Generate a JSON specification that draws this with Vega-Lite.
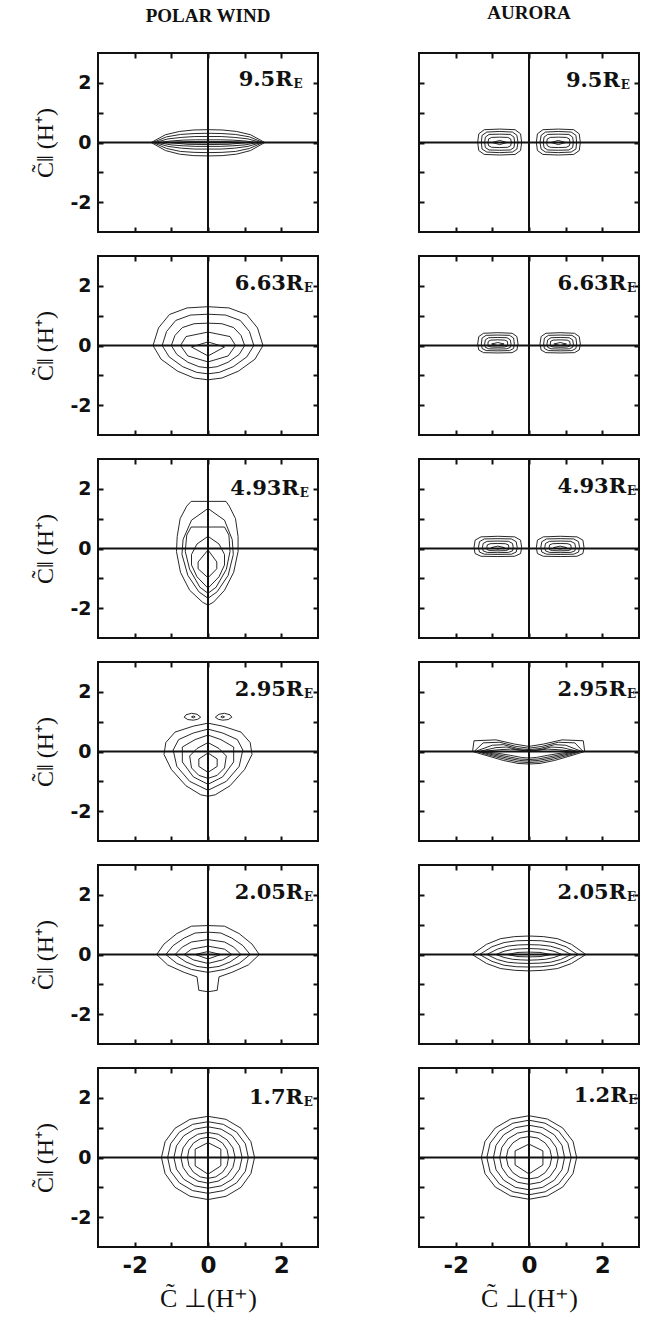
{
"$schema":"https://vega.github.io/schema/vega-lite/v6.json",
"background":"white",
"padding":{"left":32,"top":3,"right":5,"bottom":5},
"datasets":{
"labels":[
{"p":"L1","t":"9.5R","s":"E"},{"p":"L2","t":"6.63R","s":"E"},{"p":"L3","t":"4.93R","s":"E"},{"p":"L4","t":"2.95R","s":"E"},{"p":"L5","t":"2.05R","s":"E"},{"p":"L6","t":"1.7R","s":"E"},
{"p":"R1","t":"9.5R","s":"E"},{"p":"R2","t":"6.63R","s":"E"},{"p":"R3","t":"4.93R","s":"E"},{"p":"R4","t":"2.95R","s":"E"},{"p":"R5","t":"2.05R","s":"E"},{"p":"R6","t":"1.2R","s":"E"}],
"contours":[
{"p":"L1","c":1,"x":1.55,"y":0},{"p":"L1","c":1,"x":1.16,"y":0.26},{"p":"L1","c":1,"x":0.78,"y":0.37},{"p":"L1","c":1,"x":0.39,"y":0.42},{"p":"L1","c":1,"x":0,"y":0.43},{"p":"L1","c":1,"x":-0.39,"y":0.42},{"p":"L1","c":1,"x":-0.78,"y":0.37},{"p":"L1","c":1,"x":-1.16,"y":0.26},{"p":"L1","c":1,"x":-1.55,"y":0},{"p":"L1","c":1,"x":-1.16,"y":-0.27},{"p":"L1","c":1,"x":-0.78,"y":-0.39},{"p":"L1","c":1,"x":-0.39,"y":-0.44},{"p":"L1","c":1,"x":0,"y":-0.45},{"p":"L1","c":1,"x":0.39,"y":-0.44},{"p":"L1","c":1,"x":0.78,"y":-0.39},{"p":"L1","c":1,"x":1.16,"y":-0.27},
{"p":"L1","c":2,"x":1.5,"y":0},{"p":"L1","c":2,"x":1.13,"y":0.19},{"p":"L1","c":2,"x":0.75,"y":0.27},{"p":"L1","c":2,"x":0.38,"y":0.3},{"p":"L1","c":2,"x":0,"y":0.31},{"p":"L1","c":2,"x":-0.38,"y":0.3},{"p":"L1","c":2,"x":-0.75,"y":0.27},{"p":"L1","c":2,"x":-1.13,"y":0.19},{"p":"L1","c":2,"x":-1.5,"y":0},{"p":"L1","c":2,"x":-1.13,"y":-0.2},{"p":"L1","c":2,"x":-0.75,"y":-0.3},{"p":"L1","c":2,"x":-0.38,"y":-0.33},{"p":"L1","c":2,"x":0,"y":-0.34},{"p":"L1","c":2,"x":0.38,"y":-0.33},{"p":"L1","c":2,"x":0.75,"y":-0.3},{"p":"L1","c":2,"x":1.13,"y":-0.2},
{"p":"L1","c":3,"x":1.45,"y":0},{"p":"L1","c":3,"x":1.09,"y":0.12},{"p":"L1","c":3,"x":0.73,"y":0.17},{"p":"L1","c":3,"x":0.36,"y":0.2},{"p":"L1","c":3,"x":0,"y":0.2},{"p":"L1","c":3,"x":-0.36,"y":0.2},{"p":"L1","c":3,"x":-0.73,"y":0.17},{"p":"L1","c":3,"x":-1.09,"y":0.12},{"p":"L1","c":3,"x":-1.45,"y":0},{"p":"L1","c":3,"x":-1.09,"y":-0.13},{"p":"L1","c":3,"x":-0.73,"y":-0.19},{"p":"L1","c":3,"x":-0.36,"y":-0.22},{"p":"L1","c":3,"x":0,"y":-0.22},{"p":"L1","c":3,"x":0.36,"y":-0.22},{"p":"L1","c":3,"x":0.73,"y":-0.19},{"p":"L1","c":3,"x":1.09,"y":-0.13},
{"p":"L1","c":4,"x":1.35,"y":0},{"p":"L1","c":4,"x":1.01,"y":0.05},{"p":"L1","c":4,"x":0.68,"y":0.08},{"p":"L1","c":4,"x":0.34,"y":0.09},{"p":"L1","c":4,"x":0,"y":0.09},{"p":"L1","c":4,"x":-0.34,"y":0.09},{"p":"L1","c":4,"x":-0.68,"y":0.08},{"p":"L1","c":4,"x":-1.01,"y":0.05},{"p":"L1","c":4,"x":-1.35,"y":0},{"p":"L1","c":4,"x":-1.01,"y":-0.08},{"p":"L1","c":4,"x":-0.68,"y":-0.11},{"p":"L1","c":4,"x":-0.34,"y":-0.13},{"p":"L1","c":4,"x":0,"y":-0.13},{"p":"L1","c":4,"x":0.34,"y":-0.13},{"p":"L1","c":4,"x":0.68,"y":-0.11},{"p":"L1","c":4,"x":1.01,"y":-0.08},
{"p":"L1","c":5,"x":1.1,"y":0},{"p":"L1","c":5,"x":0.55,"y":0.03},{"p":"L1","c":5,"x":0,"y":0.03},{"p":"L1","c":5,"x":-0.55,"y":0.03},{"p":"L1","c":5,"x":-1.1,"y":0},{"p":"L1","c":5,"x":-0.55,"y":-0.06},{"p":"L1","c":5,"x":0,"y":-0.07},{"p":"L1","c":5,"x":0.55,"y":-0.06},

{"p":"L2","c":1,"x":1.5,"y":0},{"p":"L2","c":1,"x":1.35,"y":0.59},{"p":"L2","c":1,"x":1.05,"y":1.04},{"p":"L2","c":1,"x":0.57,"y":1.26},{"p":"L2","c":1,"x":0,"y":1.3},{"p":"L2","c":1,"x":-0.57,"y":1.26},{"p":"L2","c":1,"x":-1.05,"y":1.04},{"p":"L2","c":1,"x":-1.35,"y":0.59},{"p":"L2","c":1,"x":-1.5,"y":0},{"p":"L2","c":1,"x":-1.28,"y":-0.46},{"p":"L2","c":1,"x":-0.83,"y":-0.86},{"p":"L2","c":1,"x":-0.38,"y":-1.09},{"p":"L2","c":1,"x":0,"y":-1.15},{"p":"L2","c":1,"x":0.38,"y":-1.09},{"p":"L2","c":1,"x":0.83,"y":-0.86},{"p":"L2","c":1,"x":1.28,"y":-0.46},
{"p":"L2","c":2,"x":1.25,"y":0},{"p":"L2","c":2,"x":1.13,"y":0.47},{"p":"L2","c":2,"x":0.88,"y":0.84},{"p":"L2","c":2,"x":0.48,"y":1.02},{"p":"L2","c":2,"x":0,"y":1.05},{"p":"L2","c":2,"x":-0.48,"y":1.02},{"p":"L2","c":2,"x":-0.88,"y":0.84},{"p":"L2","c":2,"x":-1.13,"y":0.47},{"p":"L2","c":2,"x":-1.25,"y":0},{"p":"L2","c":2,"x":-1.06,"y":-0.38},{"p":"L2","c":2,"x":-0.69,"y":-0.71},{"p":"L2","c":2,"x":-0.31,"y":-0.9},{"p":"L2","c":2,"x":0,"y":-0.95},{"p":"L2","c":2,"x":0.31,"y":-0.9},{"p":"L2","c":2,"x":0.69,"y":-0.71},{"p":"L2","c":2,"x":1.06,"y":-0.38},
{"p":"L2","c":3,"x":1,"y":0},{"p":"L2","c":3,"x":0.9,"y":0.34},{"p":"L2","c":3,"x":0.7,"y":0.6},{"p":"L2","c":3,"x":0.38,"y":0.73},{"p":"L2","c":3,"x":0,"y":0.75},{"p":"L2","c":3,"x":-0.38,"y":0.73},{"p":"L2","c":3,"x":-0.7,"y":0.6},{"p":"L2","c":3,"x":-0.9,"y":0.34},{"p":"L2","c":3,"x":-1,"y":0},{"p":"L2","c":3,"x":-0.85,"y":-0.3},{"p":"L2","c":3,"x":-0.55,"y":-0.56},{"p":"L2","c":3,"x":-0.25,"y":-0.71},{"p":"L2","c":3,"x":0,"y":-0.75},{"p":"L2","c":3,"x":0.25,"y":-0.71},{"p":"L2","c":3,"x":0.55,"y":-0.56},{"p":"L2","c":3,"x":0.85,"y":-0.3},
{"p":"L2","c":4,"x":0.75,"y":0},{"p":"L2","c":4,"x":0.6,"y":0.3},{"p":"L2","c":4,"x":0,"y":0.45},{"p":"L2","c":4,"x":-0.6,"y":0.3},{"p":"L2","c":4,"x":-0.75,"y":0},{"p":"L2","c":4,"x":-0.55,"y":-0.35},{"p":"L2","c":4,"x":0,"y":-0.55},{"p":"L2","c":4,"x":0.55,"y":-0.35},
{"p":"L2","c":5,"x":0.45,"y":-0.05},{"p":"L2","c":5,"x":0,"y":0.12},{"p":"L2","c":5,"x":-0.45,"y":-0.05},{"p":"L2","c":5,"x":0,"y":-0.35},

{"p":"L3","c":1,"x":0.49,"y":1.58},{"p":"L3","c":1,"x":0.58,"y":1.42},{"p":"L3","c":1,"x":0.75,"y":1.0},{"p":"L3","c":1,"x":0.82,"y":0.4},{"p":"L3","c":1,"x":0.82,"y":-0.1},{"p":"L3","c":1,"x":0.7,"y":-0.8},{"p":"L3","c":1,"x":0.45,"y":-1.4},{"p":"L3","c":1,"x":0.15,"y":-1.8},{"p":"L3","c":1,"x":0,"y":-1.9},{"p":"L3","c":1,"x":-0.15,"y":-1.8},{"p":"L3","c":1,"x":-0.5,"y":-1.4},{"p":"L3","c":1,"x":-0.75,"y":-0.8},{"p":"L3","c":1,"x":-0.86,"y":-0.1},{"p":"L3","c":1,"x":-0.84,"y":0.4},{"p":"L3","c":1,"x":-0.76,"y":1.0},{"p":"L3","c":1,"x":-0.58,"y":1.42},{"p":"L3","c":1,"x":-0.46,"y":1.58},
{"p":"L3","c":2,"x":0,"y":1.34},{"p":"L3","c":2,"x":0.45,"y":0.95},{"p":"L3","c":2,"x":0.66,"y":0.3},{"p":"L3","c":2,"x":0.69,"y":-0.2},{"p":"L3","c":2,"x":0.55,"y":-0.9},{"p":"L3","c":2,"x":0.25,"y":-1.45},{"p":"L3","c":2,"x":0,"y":-1.67},{"p":"L3","c":2,"x":-0.25,"y":-1.45},{"p":"L3","c":2,"x":-0.55,"y":-0.9},{"p":"L3","c":2,"x":-0.71,"y":-0.2},{"p":"L3","c":2,"x":-0.68,"y":0.3},{"p":"L3","c":2,"x":-0.45,"y":0.95},
{"p":"L3","c":3,"x":0.45,"y":0.72},{"p":"L3","c":3,"x":0.57,"y":0.45},{"p":"L3","c":3,"x":0.6,"y":-0.1},{"p":"L3","c":3,"x":0.5,"y":-0.7},{"p":"L3","c":3,"x":0.22,"y":-1.3},{"p":"L3","c":3,"x":0,"y":-1.5},{"p":"L3","c":3,"x":-0.22,"y":-1.3},{"p":"L3","c":3,"x":-0.5,"y":-0.7},{"p":"L3","c":3,"x":-0.62,"y":-0.1},{"p":"L3","c":3,"x":-0.58,"y":0.45},{"p":"L3","c":3,"x":-0.46,"y":0.72},
{"p":"L3","c":4,"x":0,"y":0.41},{"p":"L3","c":4,"x":0.3,"y":0.15},{"p":"L3","c":4,"x":0.45,"y":-0.2},{"p":"L3","c":4,"x":0.45,"y":-0.55},{"p":"L3","c":4,"x":0.3,"y":-0.95},{"p":"L3","c":4,"x":0,"y":-1.33},{"p":"L3","c":4,"x":-0.3,"y":-0.95},{"p":"L3","c":4,"x":-0.45,"y":-0.55},{"p":"L3","c":4,"x":-0.45,"y":-0.2},{"p":"L3","c":4,"x":-0.3,"y":0.15},
{"p":"L3","c":5,"x":0,"y":-0.05},{"p":"L3","c":5,"x":0.24,"y":-0.45},{"p":"L3","c":5,"x":0.24,"y":-0.68},{"p":"L3","c":5,"x":0,"y":-0.98},{"p":"L3","c":5,"x":-0.27,"y":-0.68},{"p":"L3","c":5,"x":-0.27,"y":-0.45},

{"p":"L4","c":1,"x":0,"y":0.95},{"p":"L4","c":1,"x":0.4,"y":0.85},{"p":"L4","c":1,"x":0.9,"y":0.65},{"p":"L4","c":1,"x":1.15,"y":0.3},{"p":"L4","c":1,"x":1.2,"y":-0.1},{"p":"L4","c":1,"x":1.0,"y":-0.6},{"p":"L4","c":1,"x":0.6,"y":-1.15},{"p":"L4","c":1,"x":0.2,"y":-1.45},{"p":"L4","c":1,"x":0,"y":-1.5},{"p":"L4","c":1,"x":-0.2,"y":-1.45},{"p":"L4","c":1,"x":-0.6,"y":-1.15},{"p":"L4","c":1,"x":-1.0,"y":-0.6},{"p":"L4","c":1,"x":-1.2,"y":-0.1},{"p":"L4","c":1,"x":-1.15,"y":0.3},{"p":"L4","c":1,"x":-0.9,"y":0.65},{"p":"L4","c":1,"x":-0.4,"y":0.85},
{"p":"L4","c":2,"x":0,"y":0.75},{"p":"L4","c":2,"x":0.4,"y":0.62},{"p":"L4","c":2,"x":0.8,"y":0.4},{"p":"L4","c":2,"x":0.95,"y":0.05},{"p":"L4","c":2,"x":0.85,"y":-0.5},{"p":"L4","c":2,"x":0.5,"y":-1.0},{"p":"L4","c":2,"x":0,"y":-1.3},{"p":"L4","c":2,"x":-0.5,"y":-1.0},{"p":"L4","c":2,"x":-0.85,"y":-0.5},{"p":"L4","c":2,"x":-0.95,"y":0.05},{"p":"L4","c":2,"x":-0.8,"y":0.4},{"p":"L4","c":2,"x":-0.4,"y":0.62},
{"p":"L4","c":3,"x":0,"y":0.55},{"p":"L4","c":3,"x":0.35,"y":0.4},{"p":"L4","c":3,"x":0.7,"y":0.15},{"p":"L4","c":3,"x":0.7,"y":-0.35},{"p":"L4","c":3,"x":0.4,"y":-0.85},{"p":"L4","c":3,"x":0,"y":-1.1},{"p":"L4","c":3,"x":-0.4,"y":-0.85},{"p":"L4","c":3,"x":-0.7,"y":-0.35},{"p":"L4","c":3,"x":-0.7,"y":0.15},{"p":"L4","c":3,"x":-0.35,"y":0.4},
{"p":"L4","c":4,"x":0,"y":0.3},{"p":"L4","c":4,"x":0.3,"y":0.1},{"p":"L4","c":4,"x":0.5,"y":-0.15},{"p":"L4","c":4,"x":0.45,"y":-0.55},{"p":"L4","c":4,"x":0.25,"y":-0.8},{"p":"L4","c":4,"x":0,"y":-0.9},{"p":"L4","c":4,"x":-0.25,"y":-0.8},{"p":"L4","c":4,"x":-0.45,"y":-0.55},{"p":"L4","c":4,"x":-0.5,"y":-0.15},{"p":"L4","c":4,"x":-0.3,"y":0.1},
{"p":"L4","c":5,"x":0,"y":-0.05},{"p":"L4","c":5,"x":0.25,"y":-0.25},{"p":"L4","c":5,"x":0.25,"y":-0.5},{"p":"L4","c":5,"x":0,"y":-0.7},{"p":"L4","c":5,"x":-0.25,"y":-0.5},{"p":"L4","c":5,"x":-0.25,"y":-0.25},
{"p":"L4","c":6,"x":-0.2,"y":1.15},{"p":"L4","c":6,"x":-0.3,"y":1.25},{"p":"L4","c":6,"x":-0.45,"y":1.28},{"p":"L4","c":6,"x":-0.6,"y":1.23},{"p":"L4","c":6,"x":-0.65,"y":1.15},{"p":"L4","c":6,"x":-0.55,"y":1.07},{"p":"L4","c":6,"x":-0.4,"y":1.05},{"p":"L4","c":6,"x":-0.28,"y":1.08},
{"p":"L4","c":7,"x":-0.35,"y":1.16},{"p":"L4","c":7,"x":-0.4,"y":1.19},{"p":"L4","c":7,"x":-0.45,"y":1.16},{"p":"L4","c":7,"x":-0.4,"y":1.13},
{"p":"L4","c":8,"x":0.2,"y":1.15},{"p":"L4","c":8,"x":0.28,"y":1.08},{"p":"L4","c":8,"x":0.4,"y":1.05},{"p":"L4","c":8,"x":0.55,"y":1.07},{"p":"L4","c":8,"x":0.65,"y":1.15},{"p":"L4","c":8,"x":0.6,"y":1.23},{"p":"L4","c":8,"x":0.45,"y":1.28},{"p":"L4","c":8,"x":0.3,"y":1.25},
{"p":"L4","c":9,"x":0.35,"y":1.16},{"p":"L4","c":9,"x":0.4,"y":1.13},{"p":"L4","c":9,"x":0.45,"y":1.16},{"p":"L4","c":9,"x":0.4,"y":1.19},

{"p":"L5","c":1,"x":1.4,"y":0},{"p":"L5","c":1,"x":1.2,"y":0.35},{"p":"L5","c":1,"x":0.85,"y":0.7},{"p":"L5","c":1,"x":0.45,"y":0.95},{"p":"L5","c":1,"x":0,"y":0.97},{"p":"L5","c":1,"x":-0.45,"y":0.95},{"p":"L5","c":1,"x":-0.85,"y":0.7},{"p":"L5","c":1,"x":-1.2,"y":0.35},{"p":"L5","c":1,"x":-1.4,"y":0},{"p":"L5","c":1,"x":-1.1,"y":-0.35},{"p":"L5","c":1,"x":-0.65,"y":-0.6},{"p":"L5","c":1,"x":-0.3,"y":-0.75},{"p":"L5","c":1,"x":-0.25,"y":-1.2},{"p":"L5","c":1,"x":0,"y":-1.25},{"p":"L5","c":1,"x":0.25,"y":-1.2},{"p":"L5","c":1,"x":0.3,"y":-0.75},{"p":"L5","c":1,"x":0.65,"y":-0.6},{"p":"L5","c":1,"x":1.1,"y":-0.35},
{"p":"L5","c":2,"x":1.15,"y":0},{"p":"L5","c":2,"x":0.95,"y":0.3},{"p":"L5","c":2,"x":0.65,"y":0.55},{"p":"L5","c":2,"x":0.35,"y":0.72},{"p":"L5","c":2,"x":0,"y":0.75},{"p":"L5","c":2,"x":-0.35,"y":0.72},{"p":"L5","c":2,"x":-0.65,"y":0.55},{"p":"L5","c":2,"x":-0.95,"y":0.3},{"p":"L5","c":2,"x":-1.15,"y":0},{"p":"L5","c":2,"x":-0.85,"y":-0.3},{"p":"L5","c":2,"x":-0.45,"y":-0.5},{"p":"L5","c":2,"x":0,"y":-0.6},{"p":"L5","c":2,"x":0.45,"y":-0.5},{"p":"L5","c":2,"x":0.85,"y":-0.3},
{"p":"L5","c":3,"x":0.9,"y":0},{"p":"L5","c":3,"x":0.7,"y":0.25},{"p":"L5","c":3,"x":0.45,"y":0.42},{"p":"L5","c":3,"x":0,"y":0.5},{"p":"L5","c":3,"x":-0.45,"y":0.42},{"p":"L5","c":3,"x":-0.7,"y":0.25},{"p":"L5","c":3,"x":-0.9,"y":0},{"p":"L5","c":3,"x":-0.6,"y":-0.25},{"p":"L5","c":3,"x":-0.3,"y":-0.4},{"p":"L5","c":3,"x":0,"y":-0.45},{"p":"L5","c":3,"x":0.3,"y":-0.4},{"p":"L5","c":3,"x":0.6,"y":-0.25},
{"p":"L5","c":4,"x":0.65,"y":0},{"p":"L5","c":4,"x":0.45,"y":0.18},{"p":"L5","c":4,"x":0,"y":0.28},{"p":"L5","c":4,"x":-0.45,"y":0.18},{"p":"L5","c":4,"x":-0.65,"y":0},{"p":"L5","c":4,"x":-0.4,"y":-0.18},{"p":"L5","c":4,"x":0,"y":-0.3},{"p":"L5","c":4,"x":0.4,"y":-0.18},
{"p":"L5","c":5,"x":0.35,"y":0},{"p":"L5","c":5,"x":0,"y":0.1},{"p":"L5","c":5,"x":-0.35,"y":0},{"p":"L5","c":5,"x":0,"y":-0.15},

{"p":"L6","c":1,"x":1.27,"y":0},{"p":"L6","c":1,"x":1.17,"y":0.53},{"p":"L6","c":1,"x":0.9,"y":0.98},{"p":"L6","c":1,"x":0.49,"y":1.28},{"p":"L6","c":1,"x":0,"y":1.38},{"p":"L6","c":1,"x":-0.49,"y":1.28},{"p":"L6","c":1,"x":-0.9,"y":0.98},{"p":"L6","c":1,"x":-1.17,"y":0.53},{"p":"L6","c":1,"x":-1.27,"y":0},{"p":"L6","c":1,"x":-1.17,"y":-0.54},{"p":"L6","c":1,"x":-0.9,"y":-1.0},{"p":"L6","c":1,"x":-0.49,"y":-1.3},{"p":"L6","c":1,"x":0,"y":-1.41},{"p":"L6","c":1,"x":0.49,"y":-1.3},{"p":"L6","c":1,"x":0.9,"y":-1.0},{"p":"L6","c":1,"x":1.17,"y":-0.54},
{"p":"L6","c":2,"x":1.1,"y":0},{"p":"L6","c":2,"x":1.02,"y":0.46},{"p":"L6","c":2,"x":0.78,"y":0.85},{"p":"L6","c":2,"x":0.42,"y":1.11},{"p":"L6","c":2,"x":0,"y":1.2},{"p":"L6","c":2,"x":-0.42,"y":1.11},{"p":"L6","c":2,"x":-0.78,"y":0.85},{"p":"L6","c":2,"x":-1.02,"y":0.46},{"p":"L6","c":2,"x":-1.1,"y":0},{"p":"L6","c":2,"x":-1.02,"y":-0.46},{"p":"L6","c":2,"x":-0.78,"y":-0.85},{"p":"L6","c":2,"x":-0.42,"y":-1.11},{"p":"L6","c":2,"x":0,"y":-1.2},{"p":"L6","c":2,"x":0.42,"y":-1.11},{"p":"L6","c":2,"x":0.78,"y":-0.85},{"p":"L6","c":2,"x":1.02,"y":-0.46},
{"p":"L6","c":3,"x":0.93,"y":0},{"p":"L6","c":3,"x":0.86,"y":0.39},{"p":"L6","c":3,"x":0.66,"y":0.73},{"p":"L6","c":3,"x":0.36,"y":0.95},{"p":"L6","c":3,"x":0,"y":1.03},{"p":"L6","c":3,"x":-0.36,"y":0.95},{"p":"L6","c":3,"x":-0.66,"y":0.73},{"p":"L6","c":3,"x":-0.86,"y":0.39},{"p":"L6","c":3,"x":-0.93,"y":0},{"p":"L6","c":3,"x":-0.86,"y":-0.39},{"p":"L6","c":3,"x":-0.66,"y":-0.73},{"p":"L6","c":3,"x":-0.36,"y":-0.95},{"p":"L6","c":3,"x":0,"y":-1.03},{"p":"L6","c":3,"x":0.36,"y":-0.95},{"p":"L6","c":3,"x":0.66,"y":-0.73},{"p":"L6","c":3,"x":0.86,"y":-0.39},
{"p":"L6","c":4,"x":0.74,"y":0},{"p":"L6","c":4,"x":0.68,"y":0.32},{"p":"L6","c":4,"x":0.52,"y":0.59},{"p":"L6","c":4,"x":0.28,"y":0.78},{"p":"L6","c":4,"x":0,"y":0.84},{"p":"L6","c":4,"x":-0.28,"y":0.78},{"p":"L6","c":4,"x":-0.52,"y":0.59},{"p":"L6","c":4,"x":-0.68,"y":0.32},{"p":"L6","c":4,"x":-0.74,"y":0},{"p":"L6","c":4,"x":-0.68,"y":-0.33},{"p":"L6","c":4,"x":-0.52,"y":-0.61},{"p":"L6","c":4,"x":-0.28,"y":-0.79},{"p":"L6","c":4,"x":0,"y":-0.86},{"p":"L6","c":4,"x":0.28,"y":-0.79},{"p":"L6","c":4,"x":0.52,"y":-0.61},{"p":"L6","c":4,"x":0.68,"y":-0.33},
{"p":"L6","c":5,"x":0.56,"y":0},{"p":"L6","c":5,"x":0.52,"y":0.26},{"p":"L6","c":5,"x":0.4,"y":0.48},{"p":"L6","c":5,"x":0.21,"y":0.63},{"p":"L6","c":5,"x":0,"y":0.68},{"p":"L6","c":5,"x":-0.21,"y":0.63},{"p":"L6","c":5,"x":-0.4,"y":0.48},{"p":"L6","c":5,"x":-0.52,"y":0.26},{"p":"L6","c":5,"x":-0.56,"y":0},{"p":"L6","c":5,"x":-0.52,"y":-0.27},{"p":"L6","c":5,"x":-0.4,"y":-0.49},{"p":"L6","c":5,"x":-0.21,"y":-0.65},{"p":"L6","c":5,"x":0,"y":-0.7},{"p":"L6","c":5,"x":0.21,"y":-0.65},{"p":"L6","c":5,"x":0.4,"y":-0.49},{"p":"L6","c":5,"x":0.52,"y":-0.27},
{"p":"L6","c":6,"x":0.35,"y":0.28},{"p":"L6","c":6,"x":0,"y":0.5},{"p":"L6","c":6,"x":-0.35,"y":0.28},{"p":"L6","c":6,"x":-0.35,"y":-0.28},{"p":"L6","c":6,"x":0,"y":-0.56},{"p":"L6","c":6,"x":0.35,"y":-0.28},

{"p":"R1","c":1,"x":-0.2,"y":0},{"p":"R1","c":1,"x":-0.23,"y":0.29},{"p":"R1","c":1,"x":-0.38,"y":0.43},{"p":"R1","c":1,"x":-0.8,"y":0.45},{"p":"R1","c":1,"x":-1.22,"y":0.43},{"p":"R1","c":1,"x":-1.37,"y":0.29},{"p":"R1","c":1,"x":-1.4,"y":0},{"p":"R1","c":1,"x":-1.37,"y":-0.27},{"p":"R1","c":1,"x":-1.22,"y":-0.4},{"p":"R1","c":1,"x":-0.8,"y":-0.42},{"p":"R1","c":1,"x":-0.38,"y":-0.4},{"p":"R1","c":1,"x":-0.23,"y":-0.27},
{"p":"R1","c":2,"x":-0.3,"y":0},{"p":"R1","c":2,"x":-0.33,"y":0.24},{"p":"R1","c":2,"x":-0.45,"y":0.35},{"p":"R1","c":2,"x":-0.8,"y":0.37},{"p":"R1","c":2,"x":-1.15,"y":0.35},{"p":"R1","c":2,"x":-1.28,"y":0.24},{"p":"R1","c":2,"x":-1.3,"y":0},{"p":"R1","c":2,"x":-1.28,"y":-0.22},{"p":"R1","c":2,"x":-1.15,"y":-0.32},{"p":"R1","c":2,"x":-0.8,"y":-0.34},{"p":"R1","c":2,"x":-0.45,"y":-0.32},{"p":"R1","c":2,"x":-0.33,"y":-0.22},
{"p":"R1","c":3,"x":-0.39,"y":0},{"p":"R1","c":3,"x":-0.41,"y":0.18},{"p":"R1","c":3,"x":-0.51,"y":0.27},{"p":"R1","c":3,"x":-0.8,"y":0.28},{"p":"R1","c":3,"x":-1.09,"y":0.27},{"p":"R1","c":3,"x":-1.19,"y":0.18},{"p":"R1","c":3,"x":-1.21,"y":0},{"p":"R1","c":3,"x":-1.19,"y":-0.17},{"p":"R1","c":3,"x":-1.09,"y":-0.25},{"p":"R1","c":3,"x":-0.8,"y":-0.26},{"p":"R1","c":3,"x":-0.51,"y":-0.25},{"p":"R1","c":3,"x":-0.41,"y":-0.17},
{"p":"R1","c":4,"x":-0.48,"y":0},{"p":"R1","c":4,"x":-0.5,"y":0.12},{"p":"R1","c":4,"x":-0.58,"y":0.17},{"p":"R1","c":4,"x":-0.8,"y":0.18},{"p":"R1","c":4,"x":-1.02,"y":0.17},{"p":"R1","c":4,"x":-1.1,"y":0.12},{"p":"R1","c":4,"x":-1.12,"y":0},{"p":"R1","c":4,"x":-1.1,"y":-0.11},{"p":"R1","c":4,"x":-1.02,"y":-0.16},{"p":"R1","c":4,"x":-0.8,"y":-0.17},{"p":"R1","c":4,"x":-0.58,"y":-0.16},{"p":"R1","c":4,"x":-0.5,"y":-0.11},
{"p":"R1","c":5,"x":-0.6,"y":0},{"p":"R1","c":5,"x":-0.8,"y":0.07},{"p":"R1","c":5,"x":-1.0,"y":0},{"p":"R1","c":5,"x":-0.8,"y":-0.07},
{"p":"R1","c":6,"x":0.2,"y":0},{"p":"R1","c":6,"x":0.23,"y":0.29},{"p":"R1","c":6,"x":0.38,"y":0.43},{"p":"R1","c":6,"x":0.8,"y":0.45},{"p":"R1","c":6,"x":1.22,"y":0.43},{"p":"R1","c":6,"x":1.37,"y":0.29},{"p":"R1","c":6,"x":1.4,"y":0},{"p":"R1","c":6,"x":1.37,"y":-0.27},{"p":"R1","c":6,"x":1.22,"y":-0.4},{"p":"R1","c":6,"x":0.8,"y":-0.42},{"p":"R1","c":6,"x":0.38,"y":-0.4},{"p":"R1","c":6,"x":0.23,"y":-0.27},
{"p":"R1","c":7,"x":0.3,"y":0},{"p":"R1","c":7,"x":0.33,"y":0.24},{"p":"R1","c":7,"x":0.45,"y":0.35},{"p":"R1","c":7,"x":0.8,"y":0.37},{"p":"R1","c":7,"x":1.15,"y":0.35},{"p":"R1","c":7,"x":1.28,"y":0.24},{"p":"R1","c":7,"x":1.3,"y":0},{"p":"R1","c":7,"x":1.28,"y":-0.22},{"p":"R1","c":7,"x":1.15,"y":-0.32},{"p":"R1","c":7,"x":0.8,"y":-0.34},{"p":"R1","c":7,"x":0.45,"y":-0.32},{"p":"R1","c":7,"x":0.33,"y":-0.22},
{"p":"R1","c":8,"x":0.39,"y":0},{"p":"R1","c":8,"x":0.41,"y":0.18},{"p":"R1","c":8,"x":0.51,"y":0.27},{"p":"R1","c":8,"x":0.8,"y":0.28},{"p":"R1","c":8,"x":1.09,"y":0.27},{"p":"R1","c":8,"x":1.19,"y":0.18},{"p":"R1","c":8,"x":1.21,"y":0},{"p":"R1","c":8,"x":1.19,"y":-0.17},{"p":"R1","c":8,"x":1.09,"y":-0.25},{"p":"R1","c":8,"x":0.8,"y":-0.26},{"p":"R1","c":8,"x":0.51,"y":-0.25},{"p":"R1","c":8,"x":0.41,"y":-0.17},
{"p":"R1","c":9,"x":0.48,"y":0},{"p":"R1","c":9,"x":0.5,"y":0.12},{"p":"R1","c":9,"x":0.58,"y":0.17},{"p":"R1","c":9,"x":0.8,"y":0.18},{"p":"R1","c":9,"x":1.02,"y":0.17},{"p":"R1","c":9,"x":1.1,"y":0.12},{"p":"R1","c":9,"x":1.12,"y":0},{"p":"R1","c":9,"x":1.1,"y":-0.11},{"p":"R1","c":9,"x":1.02,"y":-0.16},{"p":"R1","c":9,"x":0.8,"y":-0.17},{"p":"R1","c":9,"x":0.58,"y":-0.16},{"p":"R1","c":9,"x":0.5,"y":-0.11},
{"p":"R1","c":10,"x":0.6,"y":0},{"p":"R1","c":10,"x":0.8,"y":0.07},{"p":"R1","c":10,"x":1.0,"y":0},{"p":"R1","c":10,"x":0.8,"y":-0.07},

{"p":"R2","c":1,"x":-0.3,"y":0.05},{"p":"R2","c":1,"x":-0.33,"y":0.3},{"p":"R2","c":1,"x":-0.46,"y":0.41},{"p":"R2","c":1,"x":-0.85,"y":0.43},{"p":"R2","c":1,"x":-1.24,"y":0.41},{"p":"R2","c":1,"x":-1.37,"y":0.3},{"p":"R2","c":1,"x":-1.4,"y":0.05},{"p":"R2","c":1,"x":-1.37,"y":-0.15},{"p":"R2","c":1,"x":-1.24,"y":-0.24},{"p":"R2","c":1,"x":-0.85,"y":-0.25},{"p":"R2","c":1,"x":-0.46,"y":-0.24},{"p":"R2","c":1,"x":-0.33,"y":-0.15},
{"p":"R2","c":2,"x":-0.4,"y":0.05},{"p":"R2","c":2,"x":-0.42,"y":0.25},{"p":"R2","c":2,"x":-0.53,"y":0.34},{"p":"R2","c":2,"x":-0.85,"y":0.35},{"p":"R2","c":2,"x":-1.17,"y":0.34},{"p":"R2","c":2,"x":-1.28,"y":0.25},{"p":"R2","c":2,"x":-1.3,"y":0.05},{"p":"R2","c":2,"x":-1.28,"y":-0.1},{"p":"R2","c":2,"x":-1.17,"y":-0.17},{"p":"R2","c":2,"x":-0.85,"y":-0.18},{"p":"R2","c":2,"x":-0.53,"y":-0.17},{"p":"R2","c":2,"x":-0.42,"y":-0.1},
{"p":"R2","c":3,"x":-0.49,"y":0.05},{"p":"R2","c":3,"x":-0.51,"y":0.19},{"p":"R2","c":3,"x":-0.6,"y":0.26},{"p":"R2","c":3,"x":-0.85,"y":0.27},{"p":"R2","c":3,"x":-1.1,"y":0.26},{"p":"R2","c":3,"x":-1.19,"y":0.19},{"p":"R2","c":3,"x":-1.21,"y":0.05},{"p":"R2","c":3,"x":-1.19,"y":-0.06},{"p":"R2","c":3,"x":-1.1,"y":-0.11},{"p":"R2","c":3,"x":-0.85,"y":-0.12},{"p":"R2","c":3,"x":-0.6,"y":-0.11},{"p":"R2","c":3,"x":-0.51,"y":-0.06},
{"p":"R2","c":4,"x":-0.58,"y":0.05},{"p":"R2","c":4,"x":-0.59,"y":0.14},{"p":"R2","c":4,"x":-0.66,"y":0.18},{"p":"R2","c":4,"x":-0.85,"y":0.19},{"p":"R2","c":4,"x":-1.04,"y":0.18},{"p":"R2","c":4,"x":-1.11,"y":0.14},{"p":"R2","c":4,"x":-1.12,"y":0.05},{"p":"R2","c":4,"x":-1.11,"y":-0.02},{"p":"R2","c":4,"x":-1.04,"y":-0.05},{"p":"R2","c":4,"x":-0.85,"y":-0.06},{"p":"R2","c":4,"x":-0.66,"y":-0.05},{"p":"R2","c":4,"x":-0.59,"y":-0.02},
{"p":"R2","c":5,"x":-0.68,"y":0.05},{"p":"R2","c":5,"x":-0.85,"y":0.1},{"p":"R2","c":5,"x":-1.02,"y":0.05},{"p":"R2","c":5,"x":-0.85,"y":0.0},
{"p":"R2","c":6,"x":0.3,"y":0.05},{"p":"R2","c":6,"x":0.33,"y":0.3},{"p":"R2","c":6,"x":0.46,"y":0.41},{"p":"R2","c":6,"x":0.85,"y":0.43},{"p":"R2","c":6,"x":1.24,"y":0.41},{"p":"R2","c":6,"x":1.37,"y":0.3},{"p":"R2","c":6,"x":1.4,"y":0.05},{"p":"R2","c":6,"x":1.37,"y":-0.15},{"p":"R2","c":6,"x":1.24,"y":-0.24},{"p":"R2","c":6,"x":0.85,"y":-0.25},{"p":"R2","c":6,"x":0.46,"y":-0.24},{"p":"R2","c":6,"x":0.33,"y":-0.15},
{"p":"R2","c":7,"x":0.4,"y":0.05},{"p":"R2","c":7,"x":0.42,"y":0.25},{"p":"R2","c":7,"x":0.53,"y":0.34},{"p":"R2","c":7,"x":0.85,"y":0.35},{"p":"R2","c":7,"x":1.17,"y":0.34},{"p":"R2","c":7,"x":1.28,"y":0.25},{"p":"R2","c":7,"x":1.3,"y":0.05},{"p":"R2","c":7,"x":1.28,"y":-0.1},{"p":"R2","c":7,"x":1.17,"y":-0.17},{"p":"R2","c":7,"x":0.85,"y":-0.18},{"p":"R2","c":7,"x":0.53,"y":-0.17},{"p":"R2","c":7,"x":0.42,"y":-0.1},
{"p":"R2","c":8,"x":0.49,"y":0.05},{"p":"R2","c":8,"x":0.51,"y":0.19},{"p":"R2","c":8,"x":0.6,"y":0.26},{"p":"R2","c":8,"x":0.85,"y":0.27},{"p":"R2","c":8,"x":1.1,"y":0.26},{"p":"R2","c":8,"x":1.19,"y":0.19},{"p":"R2","c":8,"x":1.21,"y":0.05},{"p":"R2","c":8,"x":1.19,"y":-0.06},{"p":"R2","c":8,"x":1.1,"y":-0.11},{"p":"R2","c":8,"x":0.85,"y":-0.12},{"p":"R2","c":8,"x":0.6,"y":-0.11},{"p":"R2","c":8,"x":0.51,"y":-0.06},
{"p":"R2","c":9,"x":0.58,"y":0.05},{"p":"R2","c":9,"x":0.59,"y":0.14},{"p":"R2","c":9,"x":0.66,"y":0.18},{"p":"R2","c":9,"x":0.85,"y":0.19},{"p":"R2","c":9,"x":1.04,"y":0.18},{"p":"R2","c":9,"x":1.11,"y":0.14},{"p":"R2","c":9,"x":1.12,"y":0.05},{"p":"R2","c":9,"x":1.11,"y":-0.02},{"p":"R2","c":9,"x":1.04,"y":-0.05},{"p":"R2","c":9,"x":0.85,"y":-0.06},{"p":"R2","c":9,"x":0.66,"y":-0.05},{"p":"R2","c":9,"x":0.59,"y":-0.02},
{"p":"R2","c":10,"x":0.68,"y":0.05},{"p":"R2","c":10,"x":0.85,"y":0.1},{"p":"R2","c":10,"x":1.02,"y":0.05},{"p":"R2","c":10,"x":0.85,"y":0.0},

{"p":"R3","c":1,"x":-0.2,"y":0.03},{"p":"R3","c":1,"x":-0.23,"y":0.28},{"p":"R3","c":1,"x":-0.39,"y":0.39},{"p":"R3","c":1,"x":-0.85,"y":0.41},{"p":"R3","c":1,"x":-1.31,"y":0.39},{"p":"R3","c":1,"x":-1.47,"y":0.28},{"p":"R3","c":1,"x":-1.5,"y":0.03},{"p":"R3","c":1,"x":-1.47,"y":-0.17},{"p":"R3","c":1,"x":-1.31,"y":-0.26},{"p":"R3","c":1,"x":-0.85,"y":-0.27},{"p":"R3","c":1,"x":-0.39,"y":-0.26},{"p":"R3","c":1,"x":-0.23,"y":-0.17},
{"p":"R3","c":2,"x":-0.32,"y":0.03},{"p":"R3","c":2,"x":-0.35,"y":0.23},{"p":"R3","c":2,"x":-0.48,"y":0.32},{"p":"R3","c":2,"x":-0.85,"y":0.33},{"p":"R3","c":2,"x":-1.22,"y":0.32},{"p":"R3","c":2,"x":-1.35,"y":0.23},{"p":"R3","c":2,"x":-1.38,"y":0.03},{"p":"R3","c":2,"x":-1.35,"y":-0.12},{"p":"R3","c":2,"x":-1.22,"y":-0.19},{"p":"R3","c":2,"x":-0.85,"y":-0.2},{"p":"R3","c":2,"x":-0.48,"y":-0.19},{"p":"R3","c":2,"x":-0.35,"y":-0.12},
{"p":"R3","c":3,"x":-0.43,"y":0.03},{"p":"R3","c":3,"x":-0.45,"y":0.17},{"p":"R3","c":3,"x":-0.56,"y":0.24},{"p":"R3","c":3,"x":-0.85,"y":0.25},{"p":"R3","c":3,"x":-1.14,"y":0.24},{"p":"R3","c":3,"x":-1.25,"y":0.17},{"p":"R3","c":3,"x":-1.27,"y":0.03},{"p":"R3","c":3,"x":-1.25,"y":-0.08},{"p":"R3","c":3,"x":-1.14,"y":-0.13},{"p":"R3","c":3,"x":-0.85,"y":-0.14},{"p":"R3","c":3,"x":-0.56,"y":-0.13},{"p":"R3","c":3,"x":-0.45,"y":-0.08},
{"p":"R3","c":4,"x":-0.55,"y":0.03},{"p":"R3","c":4,"x":-0.56,"y":0.12},{"p":"R3","c":4,"x":-0.64,"y":0.16},{"p":"R3","c":4,"x":-0.85,"y":0.17},{"p":"R3","c":4,"x":-1.06,"y":0.16},{"p":"R3","c":4,"x":-1.14,"y":0.12},{"p":"R3","c":4,"x":-1.15,"y":0.03},{"p":"R3","c":4,"x":-1.14,"y":-0.04},{"p":"R3","c":4,"x":-1.06,"y":-0.07},{"p":"R3","c":4,"x":-0.85,"y":-0.08},{"p":"R3","c":4,"x":-0.64,"y":-0.07},{"p":"R3","c":4,"x":-0.56,"y":-0.04},
{"p":"R3","c":5,"x":-0.67,"y":0.03},{"p":"R3","c":5,"x":-0.85,"y":0.08},{"p":"R3","c":5,"x":-1.03,"y":0.03},{"p":"R3","c":5,"x":-0.85,"y":-0.02},
{"p":"R3","c":6,"x":0.2,"y":0.03},{"p":"R3","c":6,"x":0.23,"y":0.28},{"p":"R3","c":6,"x":0.39,"y":0.39},{"p":"R3","c":6,"x":0.85,"y":0.41},{"p":"R3","c":6,"x":1.31,"y":0.39},{"p":"R3","c":6,"x":1.47,"y":0.28},{"p":"R3","c":6,"x":1.5,"y":0.03},{"p":"R3","c":6,"x":1.47,"y":-0.17},{"p":"R3","c":6,"x":1.31,"y":-0.26},{"p":"R3","c":6,"x":0.85,"y":-0.27},{"p":"R3","c":6,"x":0.39,"y":-0.26},{"p":"R3","c":6,"x":0.23,"y":-0.17},
{"p":"R3","c":7,"x":0.32,"y":0.03},{"p":"R3","c":7,"x":0.35,"y":0.23},{"p":"R3","c":7,"x":0.48,"y":0.32},{"p":"R3","c":7,"x":0.85,"y":0.33},{"p":"R3","c":7,"x":1.22,"y":0.32},{"p":"R3","c":7,"x":1.35,"y":0.23},{"p":"R3","c":7,"x":1.38,"y":0.03},{"p":"R3","c":7,"x":1.35,"y":-0.12},{"p":"R3","c":7,"x":1.22,"y":-0.19},{"p":"R3","c":7,"x":0.85,"y":-0.2},{"p":"R3","c":7,"x":0.48,"y":-0.19},{"p":"R3","c":7,"x":0.35,"y":-0.12},
{"p":"R3","c":8,"x":0.43,"y":0.03},{"p":"R3","c":8,"x":0.45,"y":0.17},{"p":"R3","c":8,"x":0.56,"y":0.24},{"p":"R3","c":8,"x":0.85,"y":0.25},{"p":"R3","c":8,"x":1.14,"y":0.24},{"p":"R3","c":8,"x":1.25,"y":0.17},{"p":"R3","c":8,"x":1.27,"y":0.03},{"p":"R3","c":8,"x":1.25,"y":-0.08},{"p":"R3","c":8,"x":1.14,"y":-0.13},{"p":"R3","c":8,"x":0.85,"y":-0.14},{"p":"R3","c":8,"x":0.56,"y":-0.13},{"p":"R3","c":8,"x":0.45,"y":-0.08},
{"p":"R3","c":9,"x":0.55,"y":0.03},{"p":"R3","c":9,"x":0.56,"y":0.12},{"p":"R3","c":9,"x":0.64,"y":0.16},{"p":"R3","c":9,"x":0.85,"y":0.17},{"p":"R3","c":9,"x":1.06,"y":0.16},{"p":"R3","c":9,"x":1.14,"y":0.12},{"p":"R3","c":9,"x":1.15,"y":0.03},{"p":"R3","c":9,"x":1.14,"y":-0.04},{"p":"R3","c":9,"x":1.06,"y":-0.07},{"p":"R3","c":9,"x":0.85,"y":-0.08},{"p":"R3","c":9,"x":0.64,"y":-0.07},{"p":"R3","c":9,"x":0.56,"y":-0.04},
{"p":"R3","c":10,"x":0.67,"y":0.03},{"p":"R3","c":10,"x":0.85,"y":0.08},{"p":"R3","c":10,"x":1.03,"y":0.03},{"p":"R3","c":10,"x":0.85,"y":-0.02},

{"p":"R4","c":1,"x":1.52,"y":0},{"p":"R4","c":1,"x":1.48,"y":0.36},{"p":"R4","c":1,"x":0.9,"y":0.39},{"p":"R4","c":1,"x":0.4,"y":0.25},{"p":"R4","c":1,"x":0,"y":0.17},{"p":"R4","c":1,"x":-0.4,"y":0.25},{"p":"R4","c":1,"x":-0.9,"y":0.39},{"p":"R4","c":1,"x":-1.5,"y":0.36},{"p":"R4","c":1,"x":-1.54,"y":0},{"p":"R4","c":1,"x":-1.2,"y":-0.12},{"p":"R4","c":1,"x":-0.7,"y":-0.3},{"p":"R4","c":1,"x":-0.3,"y":-0.4},{"p":"R4","c":1,"x":0,"y":-0.42},{"p":"R4","c":1,"x":0.3,"y":-0.4},{"p":"R4","c":1,"x":0.7,"y":-0.3},{"p":"R4","c":1,"x":1.2,"y":-0.12},
{"p":"R4","c":2,"x":1.46,"y":0.02},{"p":"R4","c":2,"x":1.25,"y":0.29},{"p":"R4","c":2,"x":0.8,"y":0.31},{"p":"R4","c":2,"x":0.35,"y":0.17},{"p":"R4","c":2,"x":0,"y":0.11},{"p":"R4","c":2,"x":-0.35,"y":0.17},{"p":"R4","c":2,"x":-0.8,"y":0.31},{"p":"R4","c":2,"x":-1.25,"y":0.29},{"p":"R4","c":2,"x":-1.48,"y":0.02},{"p":"R4","c":2,"x":-1.15,"y":-0.1},{"p":"R4","c":2,"x":-0.65,"y":-0.26},{"p":"R4","c":2,"x":-0.28,"y":-0.35},{"p":"R4","c":2,"x":0,"y":-0.37},{"p":"R4","c":2,"x":0.28,"y":-0.35},{"p":"R4","c":2,"x":0.65,"y":-0.26},{"p":"R4","c":2,"x":1.15,"y":-0.1},
{"p":"R4","c":3,"x":1.4,"y":0.02},{"p":"R4","c":3,"x":1.0,"y":0.21},{"p":"R4","c":3,"x":0.7,"y":0.23},{"p":"R4","c":3,"x":0.3,"y":0.1},{"p":"R4","c":3,"x":0,"y":0.06},{"p":"R4","c":3,"x":-0.3,"y":0.1},{"p":"R4","c":3,"x":-0.7,"y":0.23},{"p":"R4","c":3,"x":-1.0,"y":0.21},{"p":"R4","c":3,"x":-1.42,"y":0.02},{"p":"R4","c":3,"x":-1.1,"y":-0.08},{"p":"R4","c":3,"x":-0.6,"y":-0.22},{"p":"R4","c":3,"x":-0.25,"y":-0.3},{"p":"R4","c":3,"x":0,"y":-0.32},{"p":"R4","c":3,"x":0.25,"y":-0.3},{"p":"R4","c":3,"x":0.6,"y":-0.22},{"p":"R4","c":3,"x":1.1,"y":-0.08},
{"p":"R4","c":4,"x":1.35,"y":0},{"p":"R4","c":4,"x":0.9,"y":0.13},{"p":"R4","c":4,"x":0.6,"y":0.15},{"p":"R4","c":4,"x":0.3,"y":0.06},{"p":"R4","c":4,"x":0,"y":0.03},{"p":"R4","c":4,"x":-0.3,"y":0.06},{"p":"R4","c":4,"x":-0.6,"y":0.15},{"p":"R4","c":4,"x":-0.9,"y":0.13},{"p":"R4","c":4,"x":-1.37,"y":0},{"p":"R4","c":4,"x":-1.0,"y":-0.07},{"p":"R4","c":4,"x":-0.55,"y":-0.18},{"p":"R4","c":4,"x":-0.25,"y":-0.25},{"p":"R4","c":4,"x":0,"y":-0.27},{"p":"R4","c":4,"x":0.25,"y":-0.25},{"p":"R4","c":4,"x":0.55,"y":-0.18},{"p":"R4","c":4,"x":1.0,"y":-0.07},
{"p":"R4","c":5,"x":1.3,"y":0},{"p":"R4","c":5,"x":0.8,"y":0.06},{"p":"R4","c":5,"x":0.5,"y":0.08},{"p":"R4","c":5,"x":0,"y":0.01},{"p":"R4","c":5,"x":-0.5,"y":0.08},{"p":"R4","c":5,"x":-0.8,"y":0.06},{"p":"R4","c":5,"x":-1.32,"y":0},{"p":"R4","c":5,"x":-0.9,"y":-0.05},{"p":"R4","c":5,"x":-0.5,"y":-0.13},{"p":"R4","c":5,"x":-0.2,"y":-0.2},{"p":"R4","c":5,"x":0,"y":-0.22},{"p":"R4","c":5,"x":0.2,"y":-0.2},{"p":"R4","c":5,"x":0.5,"y":-0.13},{"p":"R4","c":5,"x":0.9,"y":-0.05},

{"p":"R5","c":1,"x":1.55,"y":0},{"p":"R5","c":1,"x":1.16,"y":0.34},{"p":"R5","c":1,"x":0.78,"y":0.53},{"p":"R5","c":1,"x":0.39,"y":0.6},{"p":"R5","c":1,"x":0,"y":0.62},{"p":"R5","c":1,"x":-0.39,"y":0.6},{"p":"R5","c":1,"x":-0.78,"y":0.53},{"p":"R5","c":1,"x":-1.16,"y":0.34},{"p":"R5","c":1,"x":-1.55,"y":0},{"p":"R5","c":1,"x":-1.16,"y":-0.3},{"p":"R5","c":1,"x":-0.78,"y":-0.47},{"p":"R5","c":1,"x":-0.39,"y":-0.53},{"p":"R5","c":1,"x":0,"y":-0.55},{"p":"R5","c":1,"x":0.39,"y":-0.53},{"p":"R5","c":1,"x":0.78,"y":-0.47},{"p":"R5","c":1,"x":1.16,"y":-0.3},
{"p":"R5","c":2,"x":1.35,"y":0},{"p":"R5","c":2,"x":1.01,"y":0.26},{"p":"R5","c":2,"x":0.68,"y":0.4},{"p":"R5","c":2,"x":0.34,"y":0.46},{"p":"R5","c":2,"x":0,"y":0.47},{"p":"R5","c":2,"x":-0.34,"y":0.46},{"p":"R5","c":2,"x":-0.68,"y":0.4},{"p":"R5","c":2,"x":-1.01,"y":0.26},{"p":"R5","c":2,"x":-1.35,"y":0},{"p":"R5","c":2,"x":-1.01,"y":-0.23},{"p":"R5","c":2,"x":-0.68,"y":-0.36},{"p":"R5","c":2,"x":-0.34,"y":-0.41},{"p":"R5","c":2,"x":0,"y":-0.42},{"p":"R5","c":2,"x":0.34,"y":-0.41},{"p":"R5","c":2,"x":0.68,"y":-0.36},{"p":"R5","c":2,"x":1.01,"y":-0.23},
{"p":"R5","c":3,"x":1.15,"y":0},{"p":"R5","c":3,"x":0.86,"y":0.18},{"p":"R5","c":3,"x":0.58,"y":0.28},{"p":"R5","c":3,"x":0.29,"y":0.32},{"p":"R5","c":3,"x":0,"y":0.33},{"p":"R5","c":3,"x":-0.29,"y":0.32},{"p":"R5","c":3,"x":-0.58,"y":0.28},{"p":"R5","c":3,"x":-0.86,"y":0.18},{"p":"R5","c":3,"x":-1.15,"y":0},{"p":"R5","c":3,"x":-0.86,"y":-0.17},{"p":"R5","c":3,"x":-0.58,"y":-0.26},{"p":"R5","c":3,"x":-0.29,"y":-0.29},{"p":"R5","c":3,"x":0,"y":-0.3},{"p":"R5","c":3,"x":0.29,"y":-0.29},{"p":"R5","c":3,"x":0.58,"y":-0.26},{"p":"R5","c":3,"x":0.86,"y":-0.17},
{"p":"R5","c":4,"x":0.9,"y":0},{"p":"R5","c":4,"x":0.68,"y":0.11},{"p":"R5","c":4,"x":0.45,"y":0.17},{"p":"R5","c":4,"x":0.23,"y":0.19},{"p":"R5","c":4,"x":0,"y":0.2},{"p":"R5","c":4,"x":-0.23,"y":0.19},{"p":"R5","c":4,"x":-0.45,"y":0.17},{"p":"R5","c":4,"x":-0.68,"y":0.11},{"p":"R5","c":4,"x":-0.9,"y":0},{"p":"R5","c":4,"x":-0.68,"y":-0.1},{"p":"R5","c":4,"x":-0.45,"y":-0.16},{"p":"R5","c":4,"x":-0.23,"y":-0.18},{"p":"R5","c":4,"x":0,"y":-0.19},{"p":"R5","c":4,"x":0.23,"y":-0.18},{"p":"R5","c":4,"x":0.45,"y":-0.16},{"p":"R5","c":4,"x":0.68,"y":-0.1},
{"p":"R5","c":5,"x":0.6,"y":0},{"p":"R5","c":5,"x":0.3,"y":0.07},{"p":"R5","c":5,"x":0,"y":0.08},{"p":"R5","c":5,"x":-0.3,"y":0.07},{"p":"R5","c":5,"x":-0.6,"y":0},{"p":"R5","c":5,"x":-0.3,"y":-0.07},{"p":"R5","c":5,"x":0,"y":-0.08},{"p":"R5","c":5,"x":0.3,"y":-0.07},

{"p":"R6","c":1,"x":1.3,"y":0},{"p":"R6","c":1,"x":1.2,"y":0.54},{"p":"R6","c":1,"x":0.92,"y":0.99},{"p":"R6","c":1,"x":0.5,"y":1.29},{"p":"R6","c":1,"x":0,"y":1.4},{"p":"R6","c":1,"x":-0.5,"y":1.29},{"p":"R6","c":1,"x":-0.92,"y":0.99},{"p":"R6","c":1,"x":-1.2,"y":0.54},{"p":"R6","c":1,"x":-1.3,"y":0},{"p":"R6","c":1,"x":-1.2,"y":-0.54},{"p":"R6","c":1,"x":-0.92,"y":-0.99},{"p":"R6","c":1,"x":-0.5,"y":-1.29},{"p":"R6","c":1,"x":0,"y":-1.4},{"p":"R6","c":1,"x":0.5,"y":-1.29},{"p":"R6","c":1,"x":0.92,"y":-0.99},{"p":"R6","c":1,"x":1.2,"y":-0.54},
{"p":"R6","c":2,"x":1.15,"y":0},{"p":"R6","c":2,"x":1.06,"y":0.48},{"p":"R6","c":2,"x":0.81,"y":0.88},{"p":"R6","c":2,"x":0.44,"y":1.15},{"p":"R6","c":2,"x":0,"y":1.25},{"p":"R6","c":2,"x":-0.44,"y":1.15},{"p":"R6","c":2,"x":-0.81,"y":0.88},{"p":"R6","c":2,"x":-1.06,"y":0.48},{"p":"R6","c":2,"x":-1.15,"y":0},{"p":"R6","c":2,"x":-1.06,"y":-0.48},{"p":"R6","c":2,"x":-0.81,"y":-0.88},{"p":"R6","c":2,"x":-0.44,"y":-1.15},{"p":"R6","c":2,"x":0,"y":-1.25},{"p":"R6","c":2,"x":0.44,"y":-1.15},{"p":"R6","c":2,"x":0.81,"y":-0.88},{"p":"R6","c":2,"x":1.06,"y":-0.48},
{"p":"R6","c":3,"x":0.97,"y":0},{"p":"R6","c":3,"x":0.9,"y":0.41},{"p":"R6","c":3,"x":0.69,"y":0.76},{"p":"R6","c":3,"x":0.37,"y":1.0},{"p":"R6","c":3,"x":0,"y":1.08},{"p":"R6","c":3,"x":-0.37,"y":1.0},{"p":"R6","c":3,"x":-0.69,"y":0.76},{"p":"R6","c":3,"x":-0.9,"y":0.41},{"p":"R6","c":3,"x":-0.97,"y":0},{"p":"R6","c":3,"x":-0.9,"y":-0.41},{"p":"R6","c":3,"x":-0.69,"y":-0.76},{"p":"R6","c":3,"x":-0.37,"y":-1.0},{"p":"R6","c":3,"x":0,"y":-1.08},{"p":"R6","c":3,"x":0.37,"y":-1.0},{"p":"R6","c":3,"x":0.69,"y":-0.76},{"p":"R6","c":3,"x":0.9,"y":-0.41},
{"p":"R6","c":4,"x":0.8,"y":0},{"p":"R6","c":4,"x":0.74,"y":0.34},{"p":"R6","c":4,"x":0.57,"y":0.63},{"p":"R6","c":4,"x":0.31,"y":0.82},{"p":"R6","c":4,"x":0,"y":0.89},{"p":"R6","c":4,"x":-0.31,"y":0.82},{"p":"R6","c":4,"x":-0.57,"y":0.63},{"p":"R6","c":4,"x":-0.74,"y":0.34},{"p":"R6","c":4,"x":-0.8,"y":0},{"p":"R6","c":4,"x":-0.74,"y":-0.34},{"p":"R6","c":4,"x":-0.57,"y":-0.64},{"p":"R6","c":4,"x":-0.31,"y":-0.83},{"p":"R6","c":4,"x":0,"y":-0.9},{"p":"R6","c":4,"x":0.31,"y":-0.83},{"p":"R6","c":4,"x":0.57,"y":-0.64},{"p":"R6","c":4,"x":0.74,"y":-0.34},
{"p":"R6","c":5,"x":0.62,"y":0},{"p":"R6","c":5,"x":0.57,"y":0.27},{"p":"R6","c":5,"x":0.44,"y":0.49},{"p":"R6","c":5,"x":0.24,"y":0.65},{"p":"R6","c":5,"x":0,"y":0.7},{"p":"R6","c":5,"x":-0.24,"y":0.65},{"p":"R6","c":5,"x":-0.44,"y":0.49},{"p":"R6","c":5,"x":-0.57,"y":0.27},{"p":"R6","c":5,"x":-0.62,"y":0},{"p":"R6","c":5,"x":-0.57,"y":-0.28},{"p":"R6","c":5,"x":-0.44,"y":-0.51},{"p":"R6","c":5,"x":-0.24,"y":-0.67},{"p":"R6","c":5,"x":0,"y":-0.72},{"p":"R6","c":5,"x":0.24,"y":-0.67},{"p":"R6","c":5,"x":0.44,"y":-0.51},{"p":"R6","c":5,"x":0.57,"y":-0.28},
{"p":"R6","c":6,"x":0.38,"y":0.22},{"p":"R6","c":6,"x":0,"y":0.45},{"p":"R6","c":6,"x":-0.38,"y":0.22},{"p":"R6","c":6,"x":-0.38,"y":-0.25},{"p":"R6","c":6,"x":0,"y":-0.55},{"p":"R6","c":6,"x":0.38,"y":-0.25}
]},
"hconcat":[
{"spacing":20,"vconcat":[
{"width":220,"height":179,"title":{"text":"POLAR WIND","font":"Liberation Serif","fontWeight":"bold","fontSize":19,"frame":"group","anchor":"middle","offset":26,"color":"#111"},"resolve":{"axis":{"x":"independent","y":"independent"}},"layer":[
{"data":{"name":"contours"},"transform":[{"filter":"datum.p==='L1'"}],"mark":{"type":"line","interpolate":"linear-closed","stroke":"#111","strokeWidth":0.9},"encoding":{"x":{"field":"x","type":"quantitative","scale":{"domain":[-3,3],"nice":false},"axis":{"orient":"bottom","values":[-2,-1,0,1,2],"labels":false,"title":null}},"y":{"field":"y","type":"quantitative","scale":{"domain":[-3,3],"nice":false},"axis":{"orient":"left","values":[-2,-1,0,1,2],"labelExpr":"datum.value==-2?'-2':datum.value==0?'0':datum.value==2?'2':''","title":"C\u0303\u2016 (H\u207a)"}},"detail":{"field":"c","type":"nominal"},"order":{"value":null}}},
{"data":{"values":[{}]},"mark":{"type":"rule","stroke":"#111","strokeWidth":2},"encoding":{"x":{"datum":0,"type":"quantitative","scale":{"domain":[-3,3],"nice":false},"axis":{"orient":"top","values":[-2,-1,0,1,2],"labels":false,"title":null}}}},
{"data":{"values":[{}]},"mark":{"type":"rule","stroke":"#111","strokeWidth":2},"encoding":{"y":{"datum":0,"type":"quantitative","scale":{"domain":[-3,3],"nice":false},"axis":{"orient":"right","values":[-2,-1,0,1,2],"labels":false,"title":null}}}},
{"data":{"name":"labels"},"transform":[{"filter":"datum.p==='L1'"}],"mark":{"type":"text","align":"right","baseline":"alphabetic","font":"DejaVu Serif","fontWeight":"bold","fontSize":21,"color":"#111"},"encoding":{"x":{"datum":2.31,"type":"quantitative","axis":null},"y":{"datum":1.9,"type":"quantitative","axis":null},"text":{"field":"t"}}},
{"data":{"name":"labels"},"transform":[{"filter":"datum.p==='L1'"}],"mark":{"type":"text","align":"left","baseline":"alphabetic","font":"DejaVu Serif","fontWeight":"bold","fontSize":12,"color":"#111"},"encoding":{"x":{"datum":2.33,"type":"quantitative","axis":null},"y":{"datum":1.83,"type":"quantitative","axis":null},"text":{"field":"s"}}}
]},
{"width":220,"height":179,"resolve":{"axis":{"x":"independent","y":"independent"}},"layer":[
{"data":{"name":"contours"},"transform":[{"filter":"datum.p==='L2'"}],"mark":{"type":"line","interpolate":"linear-closed","stroke":"#111","strokeWidth":0.9},"encoding":{"x":{"field":"x","type":"quantitative","scale":{"domain":[-3,3],"nice":false},"axis":{"orient":"bottom","values":[-2,-1,0,1,2],"labels":false,"title":null}},"y":{"field":"y","type":"quantitative","scale":{"domain":[-3,3],"nice":false},"axis":{"orient":"left","values":[-2,-1,0,1,2],"labelExpr":"datum.value==-2?'-2':datum.value==0?'0':datum.value==2?'2':''","title":"C\u0303\u2016 (H\u207a)"}},"detail":{"field":"c","type":"nominal"},"order":{"value":null}}},
{"data":{"values":[{}]},"mark":{"type":"rule","stroke":"#111","strokeWidth":2},"encoding":{"x":{"datum":0,"type":"quantitative","scale":{"domain":[-3,3],"nice":false},"axis":{"orient":"top","values":[-2,-1,0,1,2],"labels":false,"title":null}}}},
{"data":{"values":[{}]},"mark":{"type":"rule","stroke":"#111","strokeWidth":2},"encoding":{"y":{"datum":0,"type":"quantitative","scale":{"domain":[-3,3],"nice":false},"axis":{"orient":"right","values":[-2,-1,0,1,2],"labels":false,"title":null}}}},
{"data":{"name":"labels"},"transform":[{"filter":"datum.p==='L2'"}],"mark":{"type":"text","align":"right","baseline":"alphabetic","font":"DejaVu Serif","fontWeight":"bold","fontSize":21,"color":"#111"},"encoding":{"x":{"datum":2.6,"type":"quantitative","axis":null},"y":{"datum":1.85,"type":"quantitative","axis":null},"text":{"field":"t"}}},
{"data":{"name":"labels"},"transform":[{"filter":"datum.p==='L2'"}],"mark":{"type":"text","align":"left","baseline":"alphabetic","font":"DejaVu Serif","fontWeight":"bold","fontSize":12,"color":"#111"},"encoding":{"x":{"datum":2.62,"type":"quantitative","axis":null},"y":{"datum":1.78,"type":"quantitative","axis":null},"text":{"field":"s"}}}
]},
{"width":220,"height":179,"resolve":{"axis":{"x":"independent","y":"independent"}},"layer":[
{"data":{"name":"contours"},"transform":[{"filter":"datum.p==='L3'"}],"mark":{"type":"line","interpolate":"linear-closed","stroke":"#111","strokeWidth":0.9},"encoding":{"x":{"field":"x","type":"quantitative","scale":{"domain":[-3,3],"nice":false},"axis":{"orient":"bottom","values":[-2,-1,0,1,2],"labels":false,"title":null}},"y":{"field":"y","type":"quantitative","scale":{"domain":[-3,3],"nice":false},"axis":{"orient":"left","values":[-2,-1,0,1,2],"labelExpr":"datum.value==-2?'-2':datum.value==0?'0':datum.value==2?'2':''","title":"C\u0303\u2016 (H\u207a)"}},"detail":{"field":"c","type":"nominal"},"order":{"value":null}}},
{"data":{"values":[{}]},"mark":{"type":"rule","stroke":"#111","strokeWidth":2},"encoding":{"x":{"datum":0,"type":"quantitative","scale":{"domain":[-3,3],"nice":false},"axis":{"orient":"top","values":[-2,-1,0,1,2],"labels":false,"title":null}}}},
{"data":{"values":[{}]},"mark":{"type":"rule","stroke":"#111","strokeWidth":2},"encoding":{"y":{"datum":0,"type":"quantitative","scale":{"domain":[-3,3],"nice":false},"axis":{"orient":"right","values":[-2,-1,0,1,2],"labels":false,"title":null}}}},
{"data":{"name":"labels"},"transform":[{"filter":"datum.p==='L3'"}],"mark":{"type":"text","align":"right","baseline":"alphabetic","font":"DejaVu Serif","fontWeight":"bold","fontSize":21,"color":"#111"},"encoding":{"x":{"datum":2.48,"type":"quantitative","axis":null},"y":{"datum":1.8,"type":"quantitative","axis":null},"text":{"field":"t"}}},
{"data":{"name":"labels"},"transform":[{"filter":"datum.p==='L3'"}],"mark":{"type":"text","align":"left","baseline":"alphabetic","font":"DejaVu Serif","fontWeight":"bold","fontSize":12,"color":"#111"},"encoding":{"x":{"datum":2.5,"type":"quantitative","axis":null},"y":{"datum":1.73,"type":"quantitative","axis":null},"text":{"field":"s"}}}
]},
{"width":220,"height":179,"resolve":{"axis":{"x":"independent","y":"independent"}},"layer":[
{"data":{"name":"contours"},"transform":[{"filter":"datum.p==='L4'"}],"mark":{"type":"line","interpolate":"linear-closed","stroke":"#111","strokeWidth":0.9},"encoding":{"x":{"field":"x","type":"quantitative","scale":{"domain":[-3,3],"nice":false},"axis":{"orient":"bottom","values":[-2,-1,0,1,2],"labels":false,"title":null}},"y":{"field":"y","type":"quantitative","scale":{"domain":[-3,3],"nice":false},"axis":{"orient":"left","values":[-2,-1,0,1,2],"labelExpr":"datum.value==-2?'-2':datum.value==0?'0':datum.value==2?'2':''","title":"C\u0303\u2016 (H\u207a)"}},"detail":{"field":"c","type":"nominal"},"order":{"value":null}}},
{"data":{"values":[{}]},"mark":{"type":"rule","stroke":"#111","strokeWidth":2},"encoding":{"x":{"datum":0,"type":"quantitative","scale":{"domain":[-3,3],"nice":false},"axis":{"orient":"top","values":[-2,-1,0,1,2],"labels":false,"title":null}}}},
{"data":{"values":[{}]},"mark":{"type":"rule","stroke":"#111","strokeWidth":2},"encoding":{"y":{"datum":0,"type":"quantitative","scale":{"domain":[-3,3],"nice":false},"axis":{"orient":"right","values":[-2,-1,0,1,2],"labels":false,"title":null}}}},
{"data":{"name":"labels"},"transform":[{"filter":"datum.p==='L4'"}],"mark":{"type":"text","align":"right","baseline":"alphabetic","font":"DejaVu Serif","fontWeight":"bold","fontSize":21,"color":"#111"},"encoding":{"x":{"datum":2.6,"type":"quantitative","axis":null},"y":{"datum":1.85,"type":"quantitative","axis":null},"text":{"field":"t"}}},
{"data":{"name":"labels"},"transform":[{"filter":"datum.p==='L4'"}],"mark":{"type":"text","align":"left","baseline":"alphabetic","font":"DejaVu Serif","fontWeight":"bold","fontSize":12,"color":"#111"},"encoding":{"x":{"datum":2.62,"type":"quantitative","axis":null},"y":{"datum":1.78,"type":"quantitative","axis":null},"text":{"field":"s"}}}
]},
{"width":220,"height":179,"resolve":{"axis":{"x":"independent","y":"independent"}},"layer":[
{"data":{"name":"contours"},"transform":[{"filter":"datum.p==='L5'"}],"mark":{"type":"line","interpolate":"linear-closed","stroke":"#111","strokeWidth":0.9},"encoding":{"x":{"field":"x","type":"quantitative","scale":{"domain":[-3,3],"nice":false},"axis":{"orient":"bottom","values":[-2,-1,0,1,2],"labels":false,"title":null}},"y":{"field":"y","type":"quantitative","scale":{"domain":[-3,3],"nice":false},"axis":{"orient":"left","values":[-2,-1,0,1,2],"labelExpr":"datum.value==-2?'-2':datum.value==0?'0':datum.value==2?'2':''","title":"C\u0303\u2016 (H\u207a)"}},"detail":{"field":"c","type":"nominal"},"order":{"value":null}}},
{"data":{"values":[{}]},"mark":{"type":"rule","stroke":"#111","strokeWidth":2},"encoding":{"x":{"datum":0,"type":"quantitative","scale":{"domain":[-3,3],"nice":false},"axis":{"orient":"top","values":[-2,-1,0,1,2],"labels":false,"title":null}}}},
{"data":{"values":[{}]},"mark":{"type":"rule","stroke":"#111","strokeWidth":2},"encoding":{"y":{"datum":0,"type":"quantitative","scale":{"domain":[-3,3],"nice":false},"axis":{"orient":"right","values":[-2,-1,0,1,2],"labels":false,"title":null}}}},
{"data":{"name":"labels"},"transform":[{"filter":"datum.p==='L5'"}],"mark":{"type":"text","align":"right","baseline":"alphabetic","font":"DejaVu Serif","fontWeight":"bold","fontSize":21,"color":"#111"},"encoding":{"x":{"datum":2.6,"type":"quantitative","axis":null},"y":{"datum":1.85,"type":"quantitative","axis":null},"text":{"field":"t"}}},
{"data":{"name":"labels"},"transform":[{"filter":"datum.p==='L5'"}],"mark":{"type":"text","align":"left","baseline":"alphabetic","font":"DejaVu Serif","fontWeight":"bold","fontSize":12,"color":"#111"},"encoding":{"x":{"datum":2.62,"type":"quantitative","axis":null},"y":{"datum":1.78,"type":"quantitative","axis":null},"text":{"field":"s"}}}
]},
{"width":220,"height":179,"resolve":{"axis":{"x":"independent","y":"independent"}},"layer":[
{"data":{"name":"contours"},"transform":[{"filter":"datum.p==='L6'"}],"mark":{"type":"line","interpolate":"linear-closed","stroke":"#111","strokeWidth":0.9},"encoding":{"x":{"field":"x","type":"quantitative","scale":{"domain":[-3,3],"nice":false},"axis":{"orient":"bottom","values":[-2,-1,0,1,2],"labelExpr":"datum.value==-2?'-2':datum.value==0?'0':datum.value==2?'2':''","title":"C\u0303 \u22a5(H\u207a)"}},"y":{"field":"y","type":"quantitative","scale":{"domain":[-3,3],"nice":false},"axis":{"orient":"left","values":[-2,-1,0,1,2],"labelExpr":"datum.value==-2?'-2':datum.value==0?'0':datum.value==2?'2':''","title":"C\u0303\u2016 (H\u207a)"}},"detail":{"field":"c","type":"nominal"},"order":{"value":null}}},
{"data":{"values":[{}]},"mark":{"type":"rule","stroke":"#111","strokeWidth":2},"encoding":{"x":{"datum":0,"type":"quantitative","scale":{"domain":[-3,3],"nice":false},"axis":{"orient":"top","values":[-2,-1,0,1,2],"labels":false,"title":null}}}},
{"data":{"values":[{}]},"mark":{"type":"rule","stroke":"#111","strokeWidth":2},"encoding":{"y":{"datum":0,"type":"quantitative","scale":{"domain":[-3,3],"nice":false},"axis":{"orient":"right","values":[-2,-1,0,1,2],"labels":false,"title":null}}}},
{"data":{"name":"labels"},"transform":[{"filter":"datum.p==='L6'"}],"mark":{"type":"text","align":"right","baseline":"alphabetic","font":"DejaVu Serif","fontWeight":"bold","fontSize":21,"color":"#111"},"encoding":{"x":{"datum":2.59,"type":"quantitative","axis":null},"y":{"datum":1.8,"type":"quantitative","axis":null},"text":{"field":"t"}}},
{"data":{"name":"labels"},"transform":[{"filter":"datum.p==='L6'"}],"mark":{"type":"text","align":"left","baseline":"alphabetic","font":"DejaVu Serif","fontWeight":"bold","fontSize":12,"color":"#111"},"encoding":{"x":{"datum":2.61,"type":"quantitative","axis":null},"y":{"datum":1.73,"type":"quantitative","axis":null},"text":{"field":"s"}}}
]}
]},
{"spacing":20,"vconcat":[
{"width":220,"height":179,"title":{"text":"AURORA","font":"Liberation Serif","fontWeight":"bold","fontSize":19,"frame":"group","anchor":"middle","offset":29,"color":"#111"},"resolve":{"axis":{"x":"independent","y":"independent"}},"layer":[
{"data":{"name":"contours"},"transform":[{"filter":"datum.p==='R1'"}],"mark":{"type":"line","interpolate":"linear-closed","stroke":"#111","strokeWidth":0.9},"encoding":{"x":{"field":"x","type":"quantitative","scale":{"domain":[-3,3],"nice":false},"axis":{"orient":"bottom","values":[-2,-1,0,1,2],"labels":false,"title":null}},"y":{"field":"y","type":"quantitative","scale":{"domain":[-3,3],"nice":false},"axis":{"orient":"left","values":[-2,-1,0,1,2],"labels":false,"title":null}},"detail":{"field":"c","type":"nominal"},"order":{"value":null}}},
{"data":{"values":[{}]},"mark":{"type":"rule","stroke":"#111","strokeWidth":2},"encoding":{"x":{"datum":0,"type":"quantitative","scale":{"domain":[-3,3],"nice":false},"axis":{"orient":"top","values":[-2,-1,0,1,2],"labels":false,"title":null}}}},
{"data":{"values":[{}]},"mark":{"type":"rule","stroke":"#111","strokeWidth":2},"encoding":{"y":{"datum":0,"type":"quantitative","scale":{"domain":[-3,3],"nice":false},"axis":{"orient":"right","values":[-2,-1,0,1,2],"labels":false,"title":null}}}},
{"data":{"name":"labels"},"transform":[{"filter":"datum.p==='R1'"}],"mark":{"type":"text","align":"right","baseline":"alphabetic","font":"DejaVu Serif","fontWeight":"bold","fontSize":21,"color":"#111"},"encoding":{"x":{"datum":2.48,"type":"quantitative","axis":null},"y":{"datum":1.85,"type":"quantitative","axis":null},"text":{"field":"t"}}},
{"data":{"name":"labels"},"transform":[{"filter":"datum.p==='R1'"}],"mark":{"type":"text","align":"left","baseline":"alphabetic","font":"DejaVu Serif","fontWeight":"bold","fontSize":12,"color":"#111"},"encoding":{"x":{"datum":2.5,"type":"quantitative","axis":null},"y":{"datum":1.78,"type":"quantitative","axis":null},"text":{"field":"s"}}}
]},
{"width":220,"height":179,"resolve":{"axis":{"x":"independent","y":"independent"}},"layer":[
{"data":{"name":"contours"},"transform":[{"filter":"datum.p==='R2'"}],"mark":{"type":"line","interpolate":"linear-closed","stroke":"#111","strokeWidth":0.9},"encoding":{"x":{"field":"x","type":"quantitative","scale":{"domain":[-3,3],"nice":false},"axis":{"orient":"bottom","values":[-2,-1,0,1,2],"labels":false,"title":null}},"y":{"field":"y","type":"quantitative","scale":{"domain":[-3,3],"nice":false},"axis":{"orient":"left","values":[-2,-1,0,1,2],"labels":false,"title":null}},"detail":{"field":"c","type":"nominal"},"order":{"value":null}}},
{"data":{"values":[{}]},"mark":{"type":"rule","stroke":"#111","strokeWidth":2},"encoding":{"x":{"datum":0,"type":"quantitative","scale":{"domain":[-3,3],"nice":false},"axis":{"orient":"top","values":[-2,-1,0,1,2],"labels":false,"title":null}}}},
{"data":{"values":[{}]},"mark":{"type":"rule","stroke":"#111","strokeWidth":2},"encoding":{"y":{"datum":0,"type":"quantitative","scale":{"domain":[-3,3],"nice":false},"axis":{"orient":"right","values":[-2,-1,0,1,2],"labels":false,"title":null}}}},
{"data":{"name":"labels"},"transform":[{"filter":"datum.p==='R2'"}],"mark":{"type":"text","align":"right","baseline":"alphabetic","font":"DejaVu Serif","fontWeight":"bold","fontSize":21,"color":"#111"},"encoding":{"x":{"datum":2.65,"type":"quantitative","axis":null},"y":{"datum":1.85,"type":"quantitative","axis":null},"text":{"field":"t"}}},
{"data":{"name":"labels"},"transform":[{"filter":"datum.p==='R2'"}],"mark":{"type":"text","align":"left","baseline":"alphabetic","font":"DejaVu Serif","fontWeight":"bold","fontSize":12,"color":"#111"},"encoding":{"x":{"datum":2.67,"type":"quantitative","axis":null},"y":{"datum":1.78,"type":"quantitative","axis":null},"text":{"field":"s"}}}
]},
{"width":220,"height":179,"resolve":{"axis":{"x":"independent","y":"independent"}},"layer":[
{"data":{"name":"contours"},"transform":[{"filter":"datum.p==='R3'"}],"mark":{"type":"line","interpolate":"linear-closed","stroke":"#111","strokeWidth":0.9},"encoding":{"x":{"field":"x","type":"quantitative","scale":{"domain":[-3,3],"nice":false},"axis":{"orient":"bottom","values":[-2,-1,0,1,2],"labels":false,"title":null}},"y":{"field":"y","type":"quantitative","scale":{"domain":[-3,3],"nice":false},"axis":{"orient":"left","values":[-2,-1,0,1,2],"labels":false,"title":null}},"detail":{"field":"c","type":"nominal"},"order":{"value":null}}},
{"data":{"values":[{}]},"mark":{"type":"rule","stroke":"#111","strokeWidth":2},"encoding":{"x":{"datum":0,"type":"quantitative","scale":{"domain":[-3,3],"nice":false},"axis":{"orient":"top","values":[-2,-1,0,1,2],"labels":false,"title":null}}}},
{"data":{"values":[{}]},"mark":{"type":"rule","stroke":"#111","strokeWidth":2},"encoding":{"y":{"datum":0,"type":"quantitative","scale":{"domain":[-3,3],"nice":false},"axis":{"orient":"right","values":[-2,-1,0,1,2],"labels":false,"title":null}}}},
{"data":{"name":"labels"},"transform":[{"filter":"datum.p==='R3'"}],"mark":{"type":"text","align":"right","baseline":"alphabetic","font":"DejaVu Serif","fontWeight":"bold","fontSize":21,"color":"#111"},"encoding":{"x":{"datum":2.65,"type":"quantitative","axis":null},"y":{"datum":1.85,"type":"quantitative","axis":null},"text":{"field":"t"}}},
{"data":{"name":"labels"},"transform":[{"filter":"datum.p==='R3'"}],"mark":{"type":"text","align":"left","baseline":"alphabetic","font":"DejaVu Serif","fontWeight":"bold","fontSize":12,"color":"#111"},"encoding":{"x":{"datum":2.67,"type":"quantitative","axis":null},"y":{"datum":1.78,"type":"quantitative","axis":null},"text":{"field":"s"}}}
]},
{"width":220,"height":179,"resolve":{"axis":{"x":"independent","y":"independent"}},"layer":[
{"data":{"name":"contours"},"transform":[{"filter":"datum.p==='R4'"}],"mark":{"type":"line","interpolate":"linear-closed","stroke":"#111","strokeWidth":0.9},"encoding":{"x":{"field":"x","type":"quantitative","scale":{"domain":[-3,3],"nice":false},"axis":{"orient":"bottom","values":[-2,-1,0,1,2],"labels":false,"title":null}},"y":{"field":"y","type":"quantitative","scale":{"domain":[-3,3],"nice":false},"axis":{"orient":"left","values":[-2,-1,0,1,2],"labels":false,"title":null}},"detail":{"field":"c","type":"nominal"},"order":{"value":null}}},
{"data":{"values":[{}]},"mark":{"type":"rule","stroke":"#111","strokeWidth":2},"encoding":{"x":{"datum":0,"type":"quantitative","scale":{"domain":[-3,3],"nice":false},"axis":{"orient":"top","values":[-2,-1,0,1,2],"labels":false,"title":null}}}},
{"data":{"values":[{}]},"mark":{"type":"rule","stroke":"#111","strokeWidth":2},"encoding":{"y":{"datum":0,"type":"quantitative","scale":{"domain":[-3,3],"nice":false},"axis":{"orient":"right","values":[-2,-1,0,1,2],"labels":false,"title":null}}}},
{"data":{"name":"labels"},"transform":[{"filter":"datum.p==='R4'"}],"mark":{"type":"text","align":"right","baseline":"alphabetic","font":"DejaVu Serif","fontWeight":"bold","fontSize":21,"color":"#111"},"encoding":{"x":{"datum":2.65,"type":"quantitative","axis":null},"y":{"datum":1.85,"type":"quantitative","axis":null},"text":{"field":"t"}}},
{"data":{"name":"labels"},"transform":[{"filter":"datum.p==='R4'"}],"mark":{"type":"text","align":"left","baseline":"alphabetic","font":"DejaVu Serif","fontWeight":"bold","fontSize":12,"color":"#111"},"encoding":{"x":{"datum":2.67,"type":"quantitative","axis":null},"y":{"datum":1.78,"type":"quantitative","axis":null},"text":{"field":"s"}}}
]},
{"width":220,"height":179,"resolve":{"axis":{"x":"independent","y":"independent"}},"layer":[
{"data":{"name":"contours"},"transform":[{"filter":"datum.p==='R5'"}],"mark":{"type":"line","interpolate":"linear-closed","stroke":"#111","strokeWidth":0.9},"encoding":{"x":{"field":"x","type":"quantitative","scale":{"domain":[-3,3],"nice":false},"axis":{"orient":"bottom","values":[-2,-1,0,1,2],"labels":false,"title":null}},"y":{"field":"y","type":"quantitative","scale":{"domain":[-3,3],"nice":false},"axis":{"orient":"left","values":[-2,-1,0,1,2],"labels":false,"title":null}},"detail":{"field":"c","type":"nominal"},"order":{"value":null}}},
{"data":{"values":[{}]},"mark":{"type":"rule","stroke":"#111","strokeWidth":2},"encoding":{"x":{"datum":0,"type":"quantitative","scale":{"domain":[-3,3],"nice":false},"axis":{"orient":"top","values":[-2,-1,0,1,2],"labels":false,"title":null}}}},
{"data":{"values":[{}]},"mark":{"type":"rule","stroke":"#111","strokeWidth":2},"encoding":{"y":{"datum":0,"type":"quantitative","scale":{"domain":[-3,3],"nice":false},"axis":{"orient":"right","values":[-2,-1,0,1,2],"labels":false,"title":null}}}},
{"data":{"name":"labels"},"transform":[{"filter":"datum.p==='R5'"}],"mark":{"type":"text","align":"right","baseline":"alphabetic","font":"DejaVu Serif","fontWeight":"bold","fontSize":21,"color":"#111"},"encoding":{"x":{"datum":2.65,"type":"quantitative","axis":null},"y":{"datum":1.85,"type":"quantitative","axis":null},"text":{"field":"t"}}},
{"data":{"name":"labels"},"transform":[{"filter":"datum.p==='R5'"}],"mark":{"type":"text","align":"left","baseline":"alphabetic","font":"DejaVu Serif","fontWeight":"bold","fontSize":12,"color":"#111"},"encoding":{"x":{"datum":2.67,"type":"quantitative","axis":null},"y":{"datum":1.78,"type":"quantitative","axis":null},"text":{"field":"s"}}}
]},
{"width":220,"height":179,"resolve":{"axis":{"x":"independent","y":"independent"}},"layer":[
{"data":{"name":"contours"},"transform":[{"filter":"datum.p==='R6'"}],"mark":{"type":"line","interpolate":"linear-closed","stroke":"#111","strokeWidth":0.9},"encoding":{"x":{"field":"x","type":"quantitative","scale":{"domain":[-3,3],"nice":false},"axis":{"orient":"bottom","values":[-2,-1,0,1,2],"labelExpr":"datum.value==-2?'-2':datum.value==0?'0':datum.value==2?'2':''","title":"C\u0303 \u22a5(H\u207a)"}},"y":{"field":"y","type":"quantitative","scale":{"domain":[-3,3],"nice":false},"axis":{"orient":"left","values":[-2,-1,0,1,2],"labels":false,"title":null}},"detail":{"field":"c","type":"nominal"},"order":{"value":null}}},
{"data":{"values":[{}]},"mark":{"type":"rule","stroke":"#111","strokeWidth":2},"encoding":{"x":{"datum":0,"type":"quantitative","scale":{"domain":[-3,3],"nice":false},"axis":{"orient":"top","values":[-2,-1,0,1,2],"labels":false,"title":null}}}},
{"data":{"values":[{}]},"mark":{"type":"rule","stroke":"#111","strokeWidth":2},"encoding":{"y":{"datum":0,"type":"quantitative","scale":{"domain":[-3,3],"nice":false},"axis":{"orient":"right","values":[-2,-1,0,1,2],"labels":false,"title":null}}}},
{"data":{"name":"labels"},"transform":[{"filter":"datum.p==='R6'"}],"mark":{"type":"text","align":"right","baseline":"alphabetic","font":"DejaVu Serif","fontWeight":"bold","fontSize":21,"color":"#111"},"encoding":{"x":{"datum":2.69,"type":"quantitative","axis":null},"y":{"datum":1.85,"type":"quantitative","axis":null},"text":{"field":"t"}}},
{"data":{"name":"labels"},"transform":[{"filter":"datum.p==='R6'"}],"mark":{"type":"text","align":"left","baseline":"alphabetic","font":"DejaVu Serif","fontWeight":"bold","fontSize":12,"color":"#111"},"encoding":{"x":{"datum":2.71,"type":"quantitative","axis":null},"y":{"datum":1.78,"type":"quantitative","axis":null},"text":{"field":"s"}}}
]}
]}
],
"spacing":97,
"config":{
"view":{"stroke":"#111","strokeWidth":2},
"axis":{"domain":false,"grid":false,"tickColor":"#111","tickWidth":2,"tickSize":-5,"labelFont":"DejaVu Sans","labelFontWeight":"bold","labelColor":"#111","labelOverlap":false,"labelFlush":false,"titleFont":"Liberation Serif","titleFontWeight":"normal","titleColor":"#111"},
"axisX":{"labelFontSize":23,"labelPadding":12,"titleFontSize":26,"titlePadding":8},
"axisY":{"labelFontSize":19,"labelPadding":12,"titleFontSize":24,"titlePadding":12}
}
}
